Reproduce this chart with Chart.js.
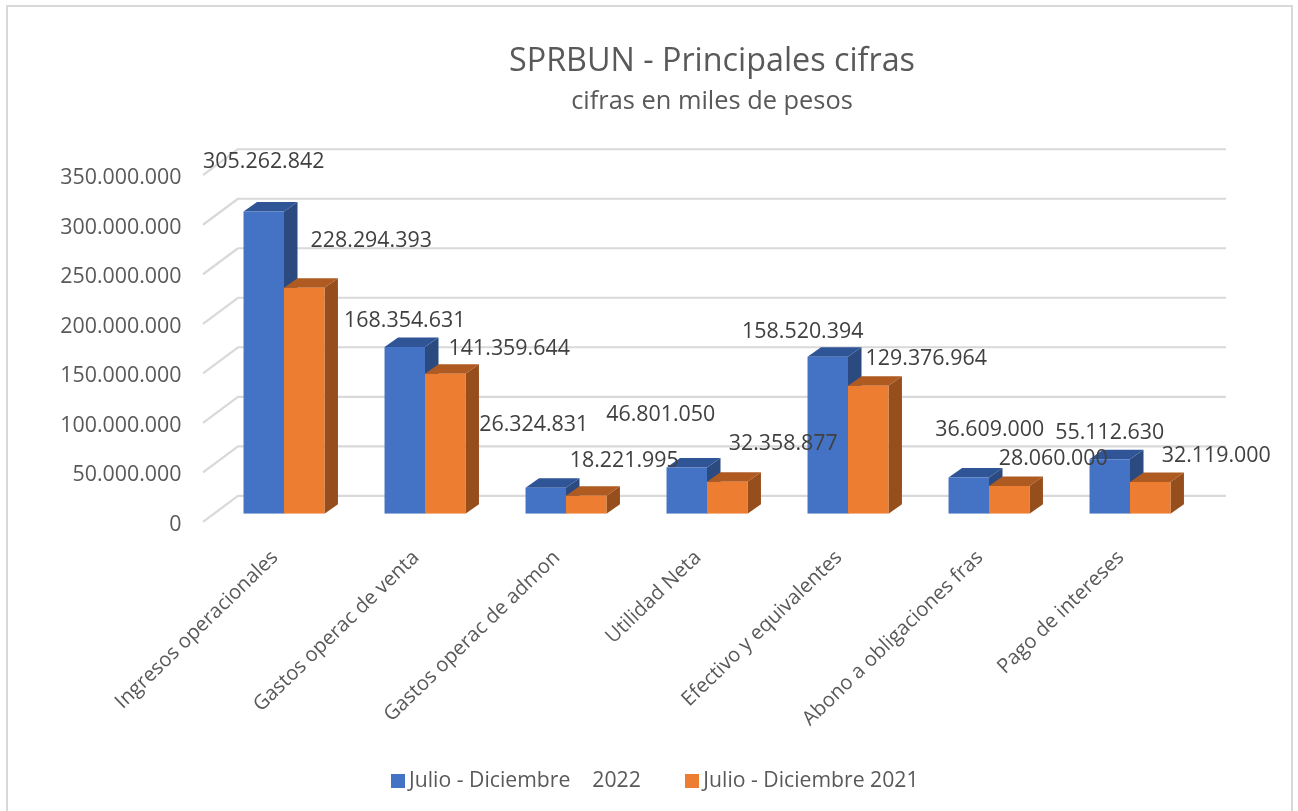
<!DOCTYPE html>
<html><head><meta charset="utf-8">
<style>html,body{margin:0;padding:0;background:#fff}#w{width:1298px;height:811px}canvas{display:block}</style>
<script src="https://cdn.jsdelivr.net/npm/chart.js@4/dist/chart.umd.js"></script>
</head><body><div id="w"><canvas id="c" width="1298" height="811"></canvas></div>
<script>
const categories = ["Ingresos operacionales","Gastos operac de venta","Gastos operac de admon","Utilidad Neta","Efectivo y equivalentes","Abono a obligaciones fras","Pago de intereses"];
const series2022 = [305262842,168354631,26324831,46801050,158520394,36609000,55112630];
const series2021 = [228294393,141359644,18221995,32358877,129376964,28060000,32119000];
const yTicks = [0,50000000,100000000,150000000,200000000,250000000,300000000,350000000];
const legend2022 = "Julio - Diciembre    2022";
const legend2021 = "Julio - Diciembre 2021";
const titleText = "SPRBUN - Principales cifras";
const subtitleText = "cifras en miles de pesos";

// label placement relative to each bar's top-centre (dx, dy)
const labelShift2022 = [[0,-50],[0,-26],[-12,-63],[-26,-53],[-25,-25],[21,-48],[0,-26]];
const labelShift2021 = [[67,-47],[64,-25],[38,-35],[56,-38],[58,-27],[44,-27],[66,-26]];

const FONT = '"Open Sans", sans-serif';
const DEPTH = {dx:13.5, dy:-9.5};
const WALL = {dx:35, dy:-18, front:8, left:203, right:1226};
const palette = [
  {front:'#4472c4', top:'#2f5597', side:'#2a4a80'},
  {front:'#ed7d31', top:'#ae5a21', side:'#964f1c'}
];
const fmt = v => Math.round(v).toString().replace(/\B(?=(\d{3})+(?!\d))/g,'.');

function swatch(color){
  const c=document.createElement('canvas');c.width=14;c.height=14;
  const x=c.getContext('2d');x.fillStyle=color;x.fillRect(0,0,14,14);return c;
}
const frame = {id:'frame',beforeDraw(chart){
  const {ctx,width,height}=chart;ctx.save();
  ctx.fillStyle='#fff';ctx.fillRect(0,0,width,height);
  ctx.strokeStyle='#d9d9d9';ctx.lineWidth=2;ctx.strokeRect(7,6,1285,900);
  ctx.restore();
}};
const shiftBoxes = {id:'shiftBoxes',afterLayout(chart){
  chart.boxes.forEach(b=>{
    let target=null;
    if(b.options && (b.options.text===titleText||b.options.text===subtitleText)) target=712;
    if(b===chart.legend) target=658;
    if(target!==null){const d=target-(b.left+b.right)/2; b.left+=d; b.right+=d;}
  });
  chart.scales.x.bottom+=25; // room for the longest slanted label
}};
const wallAndDepth = {id:'wallAndDepth',beforeDatasetsDraw(chart){
  const {ctx,scales:{y}}=chart;ctx.save();
  ctx.strokeStyle='#d9d9d9';ctx.lineWidth=2.2;ctx.lineJoin='round';
  y.ticks.forEach(t=>{
    const p=y.getPixelForValue(t.value);
    ctx.beginPath();
    ctx.moveTo(WALL.left,p+WALL.front);
    ctx.lineTo(WALL.left+WALL.dx,p+WALL.dy);
    ctx.lineTo(WALL.right,p+WALL.dy);
    ctx.stroke();
  });
  [0,1].forEach(d=>{
    const col=palette[d];
    chart.getDatasetMeta(d).data.forEach(b=>{
      const l=b.x-b.width/2,r=b.x+b.width/2,t=b.y,bt=b.base;
      ctx.fillStyle=col.side;ctx.beginPath();
      ctx.moveTo(r,t);ctx.lineTo(r+DEPTH.dx,t+DEPTH.dy);ctx.lineTo(r+DEPTH.dx,bt+DEPTH.dy);ctx.lineTo(r,bt);ctx.closePath();ctx.fill();
      ctx.fillStyle=col.top;ctx.beginPath();
      ctx.moveTo(l,t);ctx.lineTo(l+DEPTH.dx,t+DEPTH.dy);ctx.lineTo(r+DEPTH.dx,t+DEPTH.dy);ctx.lineTo(r,t);ctx.closePath();ctx.fill();
    });
  });
  ctx.restore();
}};
const valueLabels = {id:'valueLabels',afterDatasetsDraw(chart){
  const {ctx}=chart;ctx.save();
  ctx.font='21.4px '+FONT;ctx.fillStyle='#404040';ctx.textAlign='center';ctx.textBaseline='middle';
  [labelShift2022,labelShift2021].forEach((shift,d)=>{
    chart.getDatasetMeta(d).data.forEach((b,i)=>{
      ctx.fillText(fmt(chart.data.datasets[d].data[i]),b.x+shift[i][0],b.y+shift[i][1]);
    });
  });
  ctx.restore();
}};

new Chart(document.getElementById('c'),{
  type:'bar',
  data:{labels:categories,datasets:[
    {label:legend2022,data:series2022,backgroundColor:palette[0].front,barPercentage:1,categoryPercentage:0.574},
    {label:legend2021,data:series2021,backgroundColor:palette[1].front,barPercentage:1,categoryPercentage:0.574}
  ]},
  options:{
    responsive:false,animation:false,
    layout:{padding:{left:0,right:97.5,top:42,bottom:9}},
    plugins:{
      title:{display:true,text:titleText,color:'#595959',fullSize:false,font:{family:FONT,size:32.3,weight:'normal'},padding:{top:0,bottom:5.6}},
      subtitle:{display:true,text:subtitleText,color:'#595959',fullSize:false,font:{family:FONT,size:25.4,weight:'normal'},padding:{top:0,bottom:50.4}},
      legend:{position:'bottom',labels:{
        color:'#595959',font:{family:FONT,size:21.2},usePointStyle:true,pointStyleWidth:1,padding:51,
        generateLabels:c=>c.data.datasets.map((d,i)=>({text:d.label,pointStyle:swatch(d.backgroundColor),datasetIndex:i,fontColor:'#595959',lineWidth:0}))
      }},
      tooltip:{enabled:false}
    },
    scales:{
      x:{grid:{display:false},border:{display:false},
        afterFit(s){s.height=206;},
        ticks:{color:'#595959',font:{family:FONT,size:20.2},minRotation:44,maxRotation:44,padding:24,labelOffset:-9,autoSkip:false}},
      y:{min:0,max:350000000,grid:{display:false,drawTicks:false},border:{display:false},
        afterFit(s){s.width=213.5;},
        afterBuildTicks(s){s.ticks=yTicks.map(v=>({value:v}));},
        ticks:{color:'#595959',font:{family:FONT,size:21.4},padding:32,labelOffset:11,callback:v=>fmt(v)}}
    }
  },
  plugins:[frame,shiftBoxes,wallAndDepth,valueLabels]
});
</script></body></html>
